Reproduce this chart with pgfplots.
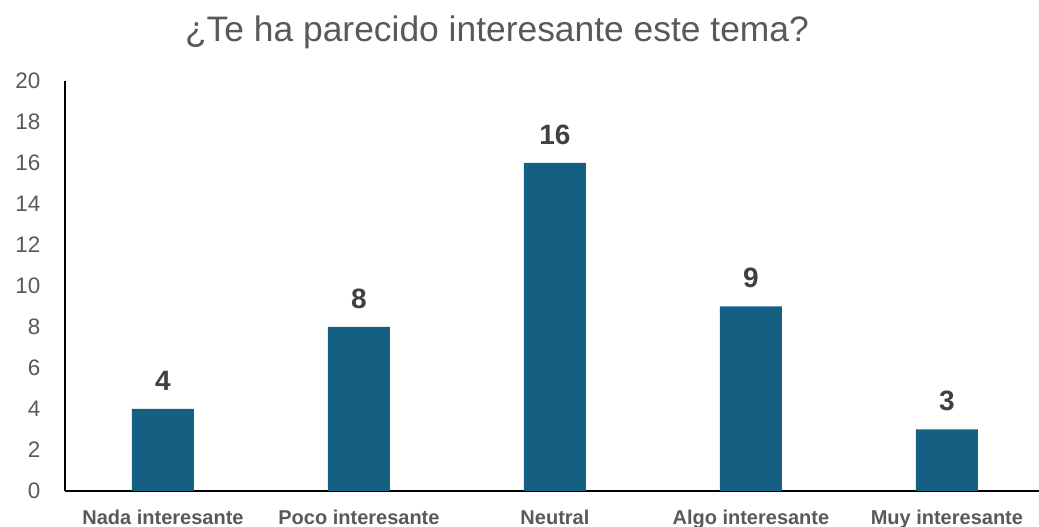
\documentclass[border=0pt]{standalone}
\usepackage{pgfplots}
\pgfplotsset{compat=1.18}
\usepackage{fontspec}
\setmainfont{Liberation Sans}
\definecolor{barblue}{HTML}{156082}
\definecolor{txtgray}{HTML}{595959}
\definecolor{lblgray}{HTML}{404040}

\begin{document}
\begin{tikzpicture}
\begin{axis}[
    name=ax,
    scale only axis,
    width=487pt, height=205pt,
    xmin=-0.5, xmax=4.47,
    ymin=0, ymax=20,
    ytick={0,2,...,20},
    xtick=data,
    xticklabels={Nada interesante, Poco interesante, Neutral, Algo interesante, Muy interesante},
    axis x line*=bottom,
    axis y line*=left,
    axis line style={line width=1pt, black},
    major tick length=0pt,
    /pgf/number format/assume math mode=true,
    yticklabel style={font=\fontsize{11.2}{13}\selectfont, color=txtgray, xshift=-8.8pt},
    xticklabel style={font=\fontsize{10}{12}\selectfont\bfseries, color=txtgray, anchor=base, yshift=-17pt},
    ybar,
    bar width=31pt,
    nodes near coords,
    nodes near coords style={font=\fontsize{14}{16}\selectfont\bfseries, color=lblgray, yshift=5.8pt},
]
% Respuestas por categoria
\addplot[fill=barblue, draw=none] coordinates {
    (0,4) (1,8) (2,16) (3,9) (4,3)
};
\end{axis}
\node[anchor=base, color=txtgray, font=\fontsize{17.7}{21}\selectfont]
    at ([xshift=216pt, yshift=19.5pt]ax.north west) {¿Te ha parecido interesante este tema?};
\pgfresetboundingbox
\useasboundingbox ([xshift=-32.5pt, yshift=-18pt]ax.south west) rectangle ([yshift=40.5pt]ax.north east);
\end{tikzpicture}
\end{document}
